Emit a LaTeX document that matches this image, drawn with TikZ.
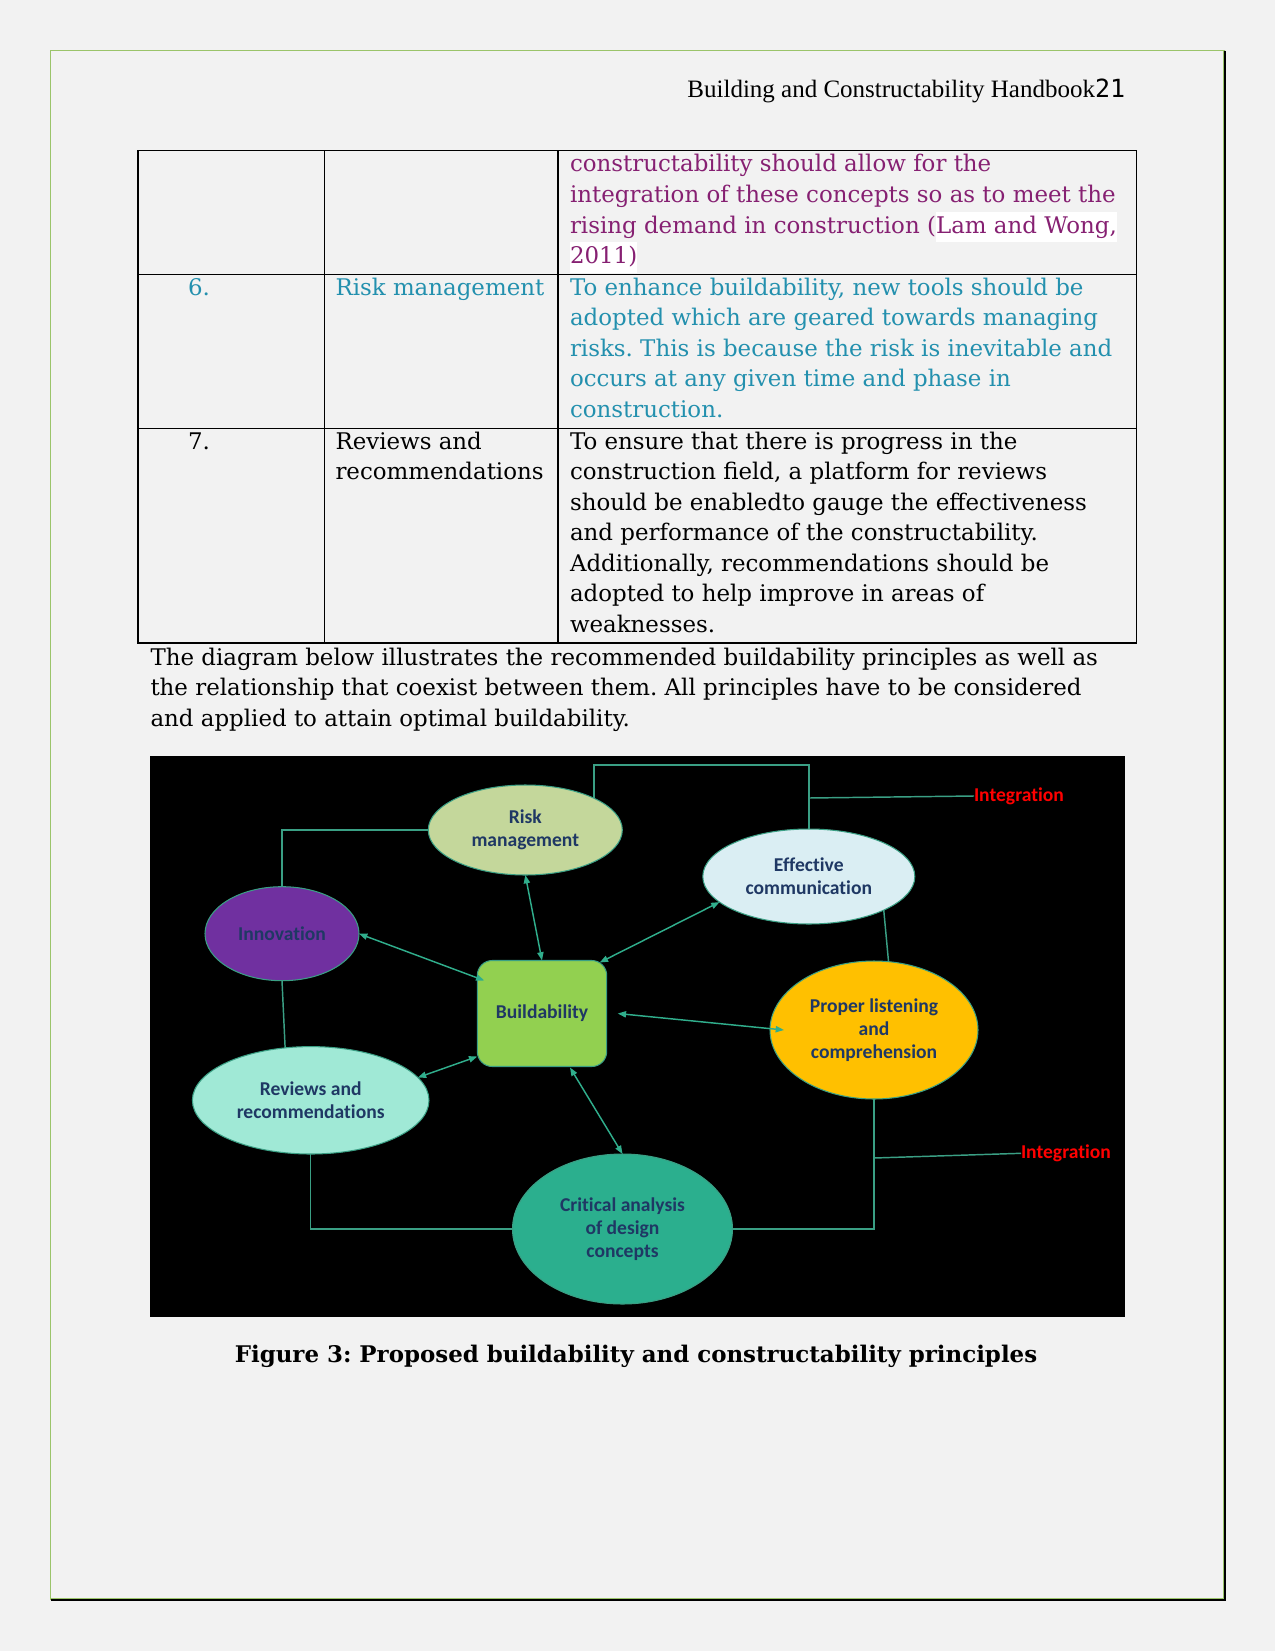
\documentclass[tikz,border=0pt]{standalone}
\usepackage{fontspec}
\setmainfont{DejaVu Serif}
\newfontfamily\hdrfont{Liberation Serif}
\newfontfamily\digfont{DejaVu Sans Mono}
\newfontfamily\calfont[Ligatures={NoCommon}]{Carlito}
\usetikzlibrary{arrows.meta,shapes.geometric}
\newcommand\pxu{0.48pt}
\frenchspacing
\definecolor{pagebg}{HTML}{F2F2F2}
\definecolor{frameg}{HTML}{9BC46A}
\definecolor{plumtxt}{HTML}{862072}
\definecolor{tealtxt}{HTML}{2390AE}
\definecolor{navy}{HTML}{1F3864}
\definecolor{linec}{HTML}{3A9F84}
\definecolor{arrc}{HTML}{30AE8C}
\definecolor{riskc}{HTML}{C4D79B}
\definecolor{innovc}{HTML}{7030A0}
\definecolor{buildc}{HTML}{92D050}
\definecolor{effcc}{HTML}{DAEEF3}
\definecolor{properc}{HTML}{FFC000}
\definecolor{reviewc}{HTML}{A0E9D6}
\definecolor{critc}{HTML}{2BAF8E}
\definecolor{intred}{HTML}{FF0000}
\tikzset{
  txt/.style={anchor=base west, inner sep=0pt, outer sep=0pt, font=\fontsize{11pt}{14.64pt}\selectfont},
  tbl/.style={draw=black, line width=0.6pt},
  ell/.style={ellipse, draw=linec, line width=0.5pt, inner sep=0pt, outer sep=0pt, align=center,
    text=navy, font=\calfont\bfseries\fontsize{9.4pt}{11.2pt}\selectfont},
  bbox/.style={rectangle, rounded corners=7.2pt, draw=linec, line width=0.5pt, inner sep=0pt, outer sep=0pt,
    text=navy, font=\calfont\bfseries\fontsize{9.4pt}{11.2pt}\selectfont},
  link/.style={draw=linec, line width=0.7pt},
  biarrow/.style={draw=arrc, line width=0.7pt, {Triangle[length=4pt,width=3pt]}-{Triangle[length=4pt,width=3pt]}},
  intl/.style={anchor=west, inner sep=0pt, outer sep=0pt, text=intred, font=\calfont\bfseries\fontsize{9.4pt}{11.2pt}\selectfont}
}
\begin{document}
\begin{tikzpicture}[x=0.48pt,y=-0.48pt]
\fill[pagebg] (0,0) rectangle (1275,1651);
\useasboundingbox (0,0) rectangle (1275,1651);
% page frame
\draw[frameg, line width=0.6pt] (50.5,50.7) rectangle (1224,1599);
\draw[black, line width=0.9pt] (1225,50.7) -- (1225,1600) -- (50.5,1600);
% header
\node[anchor=base west, inner sep=0pt] (hdr) at (687,98) {\hdrfont\fontsize{12pt}{14pt}\selectfont Building and Constructability Handbook\digfont 21};
% table
\draw[tbl] (138,150.5) rectangle (1136.5,643);
\draw[tbl] (138,274.5) -- (1136.5,274.5);
\draw[tbl] (138,428.5) -- (1136.5,428.5);
\draw[tbl] (324.5,150.5) -- (324.5,643);
\draw[tbl] (558,150.5) -- (558,643);
% row 5 (continued)
\node[txt, text=plumtxt] (r5a) at (570,172) {constructability should allow for the};
\node[txt, text=plumtxt] (r5b) at (570,202.5) {integration of these concepts so as to meet the};
\node[txt, text=plumtxt] (r5c) at (570,233) {rising demand in construction (\setlength\fboxsep{0pt}\colorbox{white}{\strut Lam and Wong,}};
\node[txt, text=plumtxt] (r5d) at (570,263.5) {\setlength\fboxsep{0pt}\colorbox{white}{\strut 2011)}};
% row 6
\node[txt, text=tealtxt] (n6) at (188,295) {6.};
\node[txt, text=tealtxt] (c6) at (335.5,295) {Risk management};
\node[txt, text=tealtxt] (r6a) at (570,295) {To enhance buildability, new tools should be};
\node[txt, text=tealtxt] (r6b) at (570,325.5) {adopted which are geared towards managing};
\node[txt, text=tealtxt] (r6c) at (570,356) {risks. This is because the risk is inevitable and};
\node[txt, text=tealtxt] (r6d) at (570,386.5) {occurs at any given time and phase in};
\node[txt, text=tealtxt] (r6e) at (570,417) {construction.};
% row 7
\node[txt] (n7) at (188,449.3) {7.};
\node[txt] (c7a) at (335.5,449.3) {Reviews and};
\node[txt] (c7b) at (335.5,479.8) {recommendations};
\node[txt] (r7a) at (570,449.3) {To ensure that there is progress in the};
\node[txt] (r7b) at (570,479.8) {construction field, a platform for reviews};
\node[txt] (r7c) at (570,510.3) {should be enabledto gauge the effectiveness};
\node[txt] (r7d) at (570,540.8) {and performance of the constructability.};
\node[txt] (r7e) at (570,571.3) {Additionally, recommendations should be};
\node[txt] (r7f) at (570,601.8) {adopted to help improve in areas of};
\node[txt] (r7g) at (570,632.3) {weaknesses.};
% paragraph
\node[txt] (p1) at (150.5,665) {The diagram below illustrates the recommended buildability principles as well as};
\node[txt] (p2) at (150.5,695.5) {the relationship that coexist between them. All principles have to be considered};
\node[txt] (p3) at (150.5,726) {and applied to attain optimal buildability.};
% diagram background
\fill[black] (150,756) rectangle (1125,1316.5);
% nodes
\node[ell, fill=riskc, minimum width=194*\pxu, minimum height=90*\pxu] (risk) at (525.3,830) {Risk\\management};
\node[ell, fill=innovc, minimum width=154*\pxu, minimum height=94*\pxu] (innov) at (282,933.7) {Innovation};
\node[bbox, fill=buildc, minimum width=129.4*\pxu, minimum height=106*\pxu] (build) at (542,1013.5) {Buildability};
\node[ell, fill=effcc, minimum width=212*\pxu, minimum height=95*\pxu] (effc) at (808.8,876.5) {Effective\\communication};
\node[ell, fill=properc, minimum width=208*\pxu, minimum height=138*\pxu] (proper) at (874,1030) {Proper listening\\and\\comprehension};
\node[ell, fill=reviewc, minimum width=236.6*\pxu, minimum height=107.4*\pxu] (reviews) at (310.7,1100.3) {Reviews and\\recommendations};
\node[ell, fill=critc, minimum width=220*\pxu, minimum height=150*\pxu] (critical) at (622.5,1229) {Critical analysis\\of design\\concepts};
\node[intl] (int1) at (974,796) {Integration};
\node[intl] (int2) at (1021,1153.3) {Integration};
\coordinate (topc) at (700,765);
% structural links
\draw[link] (risk.north east) |- (topc) -| (effc.north);
\draw[link] ([shift={(0,-31)}]effc.north) -- (int1.west);
\draw[link] (innov.north) |- (risk.west);
\draw[link] (innov.south) -- (reviews.116);
\draw[link] (reviews.south) |- (critical.west);
\draw[link] (critical.east) -| (proper.south);
\draw[link] ([shift={(0,59)}]proper.south) -- (int2.west);
\draw[link] (effc.south east) -- (proper.78);
% arrows
\draw[biarrow] (risk.south) -- (build.north);
\draw[biarrow] (innov.east) -- ([shift={(7,20)}]build.north west);
\draw[biarrow] (effc.196) -- ([shift={(-7,2)}]build.north east);
\draw[biarrow] ([shift={(14,0)}]proper.west) -- ([shift={(11,0)}]build.east);
\draw[biarrow] (reviews.12) -- ([shift={(0,-10)}]build.south west);
\draw[biarrow] ([shift={(28,1)}]build.south) -- (critical.north);
% caption
\node[anchor=base, inner sep=0pt] (cap) at (636,1362) {\fontsize{11pt}{14pt}\selectfont\bfseries Figure 3: Proposed buildability and constructability principles};
\end{tikzpicture}
\end{document}
